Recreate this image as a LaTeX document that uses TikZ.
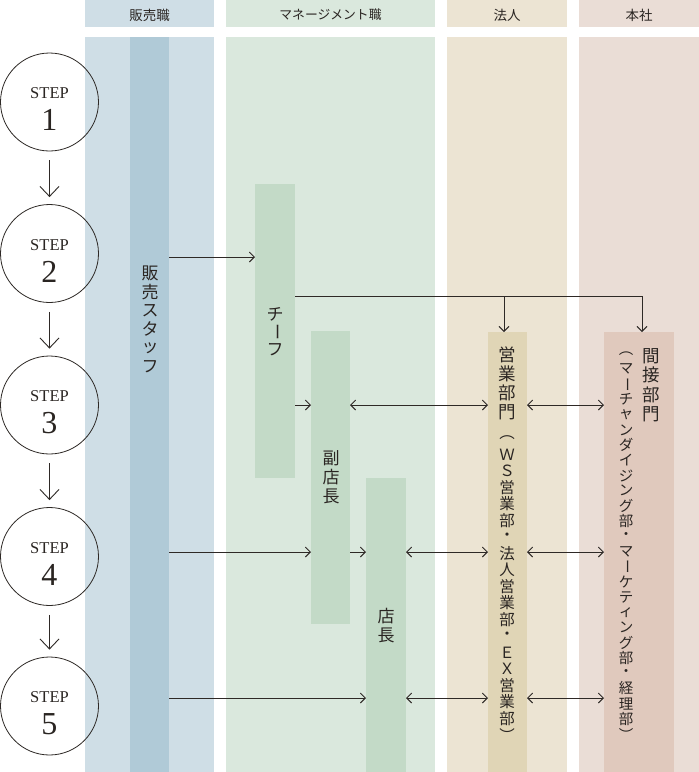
\documentclass[tikz,border=0pt]{standalone}
\usepackage{fontspec}
\usepackage{graphicx}
\setmainfont{Liberation Serif}
\newfontfamily\cjk{Noto Sans CJK JP}
\usetikzlibrary{arrows.meta}
\definecolor{cAl}{HTML}{CFDEE6}
\definecolor{cAd}{HTML}{B0CAD7}
\definecolor{cBl}{HTML}{DAE8DD}
\definecolor{cBd}{HTML}{C3DAC7}
\definecolor{cCl}{HTML}{ECE4D3}
\definecolor{cCd}{HTML}{E0D5B6}
\definecolor{cDl}{HTML}{EADDD6}
\definecolor{cDd}{HTML}{E0C9BD}
\definecolor{linec}{HTML}{2E2926}
\definecolor{txtc}{HTML}{2A2522}
\newcommand{\vlong}{\rotatebox{-90}{ー}}
\newcommand{\vcol}[6]{%
  \foreach \vc [count=\vi from 0] in {#6} {%
    \node[vch, font=\cjk\fontsize{#5}{#5}\selectfont] (#1\vi) at (#2, #3+\vi*#4) {\vc};}}
\tikzset{
  panel/.style={fill=#1, draw=none, inner sep=0pt, outer sep=0pt, anchor=north west},
  hdr/.style={font=\cjk\fontsize{13.5}{13.5}\selectfont, text=txtc, inner sep=0pt},
  vch/.style={inner sep=0pt, anchor=center, text=txtc},
  stepc/.style={circle, draw=linec, line width=0.8pt, minimum size=98pt, inner sep=0pt},
  steptxt/.style={font=\fontsize{16.5}{16.5}\selectfont, text=txtc, inner sep=0pt},
  stepnum/.style={font=\fontsize{32}{32}\selectfont, text=txtc, inner sep=0pt},
  arr/.style={draw=linec, line width=0.9pt, -{Straight Barb[length=5pt,width=10pt]}},
  darr/.style={draw=linec, line width=0.9pt, {Straight Barb[length=5pt,width=10pt]}-{Straight Barb[length=5pt,width=10pt]}},
  varr/.style={draw=linec, line width=0.9pt, -{Straight Barb[length=10pt,width=19pt]}}
}
\begin{document}
\begin{tikzpicture}[x=1pt,y=-1pt]
\useasboundingbox (0,0) rectangle (699,772);
\fill[white] (0,0) rectangle (699,772);
% header cells
\node[panel=cAl, minimum width=129pt, minimum height=27pt] (hA) at (85,0) {};
\node[panel=cBl, minimum width=209pt, minimum height=27pt] (hB) at (226,0) {};
\node[panel=cCl, minimum width=120pt, minimum height=27pt] (hC) at (447,0) {};
\node[panel=cDl, minimum width=120pt, minimum height=27pt] (hD) at (579,0) {};
\node[hdr] (tA) at (149.5,15) {販売職};
\node[hdr, font=\cjk\fontsize{12.8}{12.8}\selectfont] (tB) at (330.5,15) {マネージメント職};
\node[hdr] (tC) at (507,15) {法人};
\node[hdr] (tD) at (639,15) {本社};
% column bodies
\node[panel=cAl, minimum width=129pt, minimum height=735pt] (cA) at (85,37) {};
\node[panel=cBl, minimum width=209pt, minimum height=735pt] (cB) at (226,37) {};
\node[panel=cCl, minimum width=120pt, minimum height=735pt] (cC) at (447,37) {};
\node[panel=cDl, minimum width=120pt, minimum height=735pt] (cD) at (579,37) {};
% bars
\node[panel=cAd, minimum width=39pt, minimum height=735pt] (staff) at (130,37) {};
\node[panel=cBd, minimum width=40pt, minimum height=294pt] (chief) at (255,184) {};
\node[panel=cBd, minimum width=39pt, minimum height=293pt] (vice) at (311,331) {};
\node[panel=cBd, minimum width=40pt, minimum height=294pt] (mgr) at (366,478) {};
\node[panel=cCd, minimum width=39pt, minimum height=440pt] (sales) at (488,332) {};
\node[panel=cDd, minimum width=70pt, minimum height=440pt] (indirect) at (604,332) {};
% vertical labels
\vcol{lA}{150}{273}{18.8}{17}{販,売,ス,タ,ッ,フ}
\vcol{lB}{275}{314}{18}{17}{チ,\vlong,フ}
\vcol{lC}{331}{458}{19}{17}{副,店,長}
\vcol{lD}{386}{616}{19}{17}{店,長}
\vcol{lE}{507}{355}{19}{17.5}{営,業,部,門}
\vcol{lF}{507}{438}{16.5}{15.5}{︵,Ｗ,Ｓ,営,業,部,・,法,人,営,業,部,・,Ｅ,Ｘ,営,業,部,︶}
\vcol{lG}{651}{356}{19.3}{17.5}{間,接,部,門}
\vcol{lH}{626}{354}{15.2}{14.5}{︵,マ,\vlong,チ,ャ,ン,ダ,イ,ジ,ン,グ,部,・,マ,\vlong,ケ,テ,ィ,ン,グ,部,・,経,理,部,︶}
% steps
\foreach \n/\cy in {1/102,2/253.5,3/405,4/556.5,5/706}{
  \node[stepc] (s\n) at (49.5,\cy) {};
  \node[steptxt] (s\n a) at (49.5,\cy-8.5) {STEP};
  \node[stepnum] (s\n b) at (49.5,\cy+18) {\n};
}
\foreach \a/\b in {1/2,2/3,3/4,4/5}
  \draw[varr] ([yshift=-9pt]s\a.south) -- ([yshift=7pt]s\b.north);
% row coordinates
\coordinate (r2) at (0,257);
\coordinate (rc) at (0,296);
\coordinate (r3) at (0,405);
\coordinate (r4) at (0,552);
\coordinate (r5) at (0,698);
\coordinate (j1) at (504,296);
\coordinate (j2) at (642,296);
% connectors
\draw[arr] (staff.east |- r2) -- (chief.west |- r2);
\draw[arr] (chief.east |- rc) -| (j2 |- indirect.north);
\draw[arr] (j1) -- (j1 |- sales.north);
\draw[arr] (chief.east |- r3) -- (vice.west |- r3);
\draw[darr] (vice.east |- r3) -- (sales.west |- r3);
\draw[darr] (sales.east |- r3) -- (indirect.west |- r3);
\draw[arr] (staff.east |- r4) -- (vice.west |- r4);
\draw[arr] (vice.east |- r4) -- (mgr.west |- r4);
\draw[darr] (mgr.east |- r4) -- (sales.west |- r4);
\draw[darr] (sales.east |- r4) -- (indirect.west |- r4);
\draw[arr] (staff.east |- r5) -- (mgr.west |- r5);
\draw[darr] (mgr.east |- r5) -- (sales.west |- r5);
\draw[darr] (sales.east |- r5) -- (indirect.west |- r5);
\end{tikzpicture}
\end{document}
